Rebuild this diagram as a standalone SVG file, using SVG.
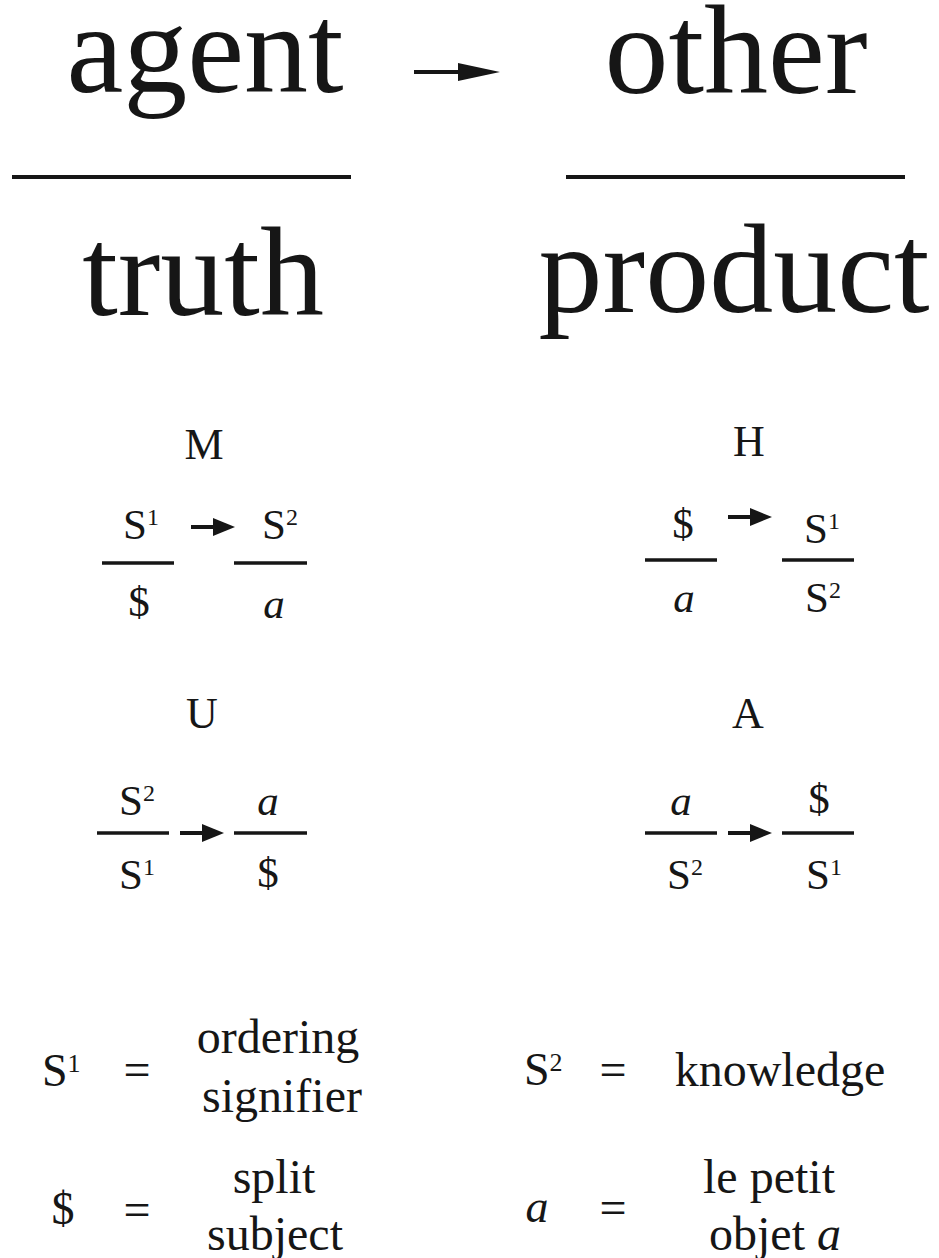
<svg xmlns="http://www.w3.org/2000/svg" width="939" height="1258" viewBox="0 0 939 1258">
<style>
text{font-family:"Liberation Serif","DejaVu Serif",serif;fill:#161616}
.big{font-size:128px}
.ttl{font-size:44px}
.d{font-size:43px}
.sup{font-size:24px}
.lg{font-size:48px}
.lgs{font-size:46px}
.lsup{font-size:26px}
.it{font-style:italic}
.bar{stroke:#161616;stroke-width:3.5;fill:none}
.bigbar{stroke:#161616;stroke-width:4;fill:none}
.shaft{stroke:#161616;stroke-width:4;fill:none}
</style>
<defs>
<marker id="headBig" markerUnits="userSpaceOnUse" markerWidth="42" markerHeight="18" refX="0" refY="9" orient="auto">
<path d="M0,0 L42,9 L0,18 z" fill="#161616"/>
</marker>
<marker id="head" markerUnits="userSpaceOnUse" markerWidth="22" markerHeight="18" refX="0" refY="9" orient="auto">
<path d="M0,0 L22,9 L0,18 z" fill="#161616"/>
</marker>
</defs>
<rect width="939" height="1258" fill="#ffffff"/>

<g id="schema">
<text class="big" x="205" y="92" text-anchor="middle">agent</text>
<text class="big" x="736" y="93" text-anchor="middle">other</text>
<line class="bigbar" x1="12" y1="177" x2="351" y2="177"/>
<line class="bigbar" x1="566" y1="177" x2="905" y2="177"/>
<text class="big" x="203" y="315" text-anchor="middle">truth</text>
<text class="big" x="734" y="312" text-anchor="middle">product</text>
</g>

<g id="discourse-M">
<text class="ttl" x="204" y="459" text-anchor="middle">M</text>
<text class="d" x="123" y="539">S<tspan class="sup" dy="-14">1</tspan></text>
<text class="d" x="262" y="539">S<tspan class="sup" dy="-14">2</tspan></text>
<line class="bar" x1="102" y1="563" x2="174" y2="563"/>
<line class="bar" x1="234" y1="563" x2="307" y2="563"/>
<text class="d" x="139" y="616" text-anchor="middle">$</text>
<text class="d it" x="274" y="618" text-anchor="middle">a</text>
</g>

<g id="discourse-H">
<text class="ttl" x="749" y="456" text-anchor="middle">H</text>
<text class="d" x="683" y="538" text-anchor="middle">$</text>
<text class="d" x="804" y="543">S<tspan class="sup" dy="-14">1</tspan></text>
<line class="bar" x1="645" y1="560" x2="717" y2="560"/>
<line class="bar" x1="782" y1="560" x2="854" y2="560"/>
<text class="d it" x="684" y="612" text-anchor="middle">a</text>
<text class="d" x="805" y="612">S<tspan class="sup" dy="-14">2</tspan></text>
</g>

<g id="discourse-U">
<text class="ttl" x="202" y="728" text-anchor="middle">U</text>
<text class="d" x="119" y="815">S<tspan class="sup" dy="-14">2</tspan></text>
<text class="d it" x="268" y="815" text-anchor="middle">a</text>
<line class="bar" x1="97" y1="833" x2="169" y2="833"/>
<line class="bar" x1="234" y1="833" x2="307" y2="833"/>
<text class="d" x="119" y="889">S<tspan class="sup" dy="-14">1</tspan></text>
<text class="d" x="268" y="887" text-anchor="middle">$</text>
</g>

<g id="discourse-A">
<text class="ttl" x="748" y="728" text-anchor="middle">A</text>
<text class="d it" x="681" y="815" text-anchor="middle">a</text>
<text class="d" x="819" y="813" text-anchor="middle">$</text>
<line class="bar" x1="645" y1="833" x2="717" y2="833"/>
<line class="bar" x1="782" y1="833" x2="854" y2="833"/>
<text class="d" x="667" y="889">S<tspan class="sup" dy="-14">2</tspan></text>
<text class="d" x="806" y="889">S<tspan class="sup" dy="-14">1</tspan></text>
</g>

<g id="connectors">
<line class="shaft" x1="414" y1="72" x2="458" y2="72" marker-end="url(#headBig)"/>
<line class="shaft" x1="191" y1="527" x2="213" y2="527" marker-end="url(#head)"/>
<line class="shaft" x1="728" y1="517" x2="750" y2="517" marker-end="url(#head)"/>
<line class="shaft" x1="180" y1="833" x2="202" y2="833" marker-end="url(#head)"/>
<line class="shaft" x1="728" y1="833" x2="750" y2="833" marker-end="url(#head)"/>
</g>

<g id="legend">
<text class="lgs" x="42" y="1086">S<tspan class="lsup" dy="-14">1</tspan></text>
<text class="lg" x="137" y="1086" text-anchor="middle">=</text>
<text class="lg" x="278" y="1053" text-anchor="middle">ordering</text>
<text class="lg" x="282" y="1112" text-anchor="middle">signifier</text>
<text class="lgs" x="63" y="1224" text-anchor="middle">$</text>
<text class="lg" x="137" y="1226" text-anchor="middle">=</text>
<text class="lg" x="274" y="1193" text-anchor="middle">split</text>
<text class="lg" x="275" y="1250" text-anchor="middle">subject</text>
<text class="lgs" x="524" y="1085">S<tspan class="lsup" dy="-14">2</tspan></text>
<text class="lg" x="613" y="1086" text-anchor="middle">=</text>
<text class="lg" x="780" y="1086" text-anchor="middle">knowledge</text>
<text class="lgs it" x="537" y="1222" text-anchor="middle">a</text>
<text class="lg" x="613" y="1224" text-anchor="middle">=</text>
<text class="lg" x="769" y="1193" text-anchor="middle">le petit</text>
<text class="lg" x="775" y="1250" text-anchor="middle">objet <tspan class="it">a</tspan></text>
</g>
</svg>
